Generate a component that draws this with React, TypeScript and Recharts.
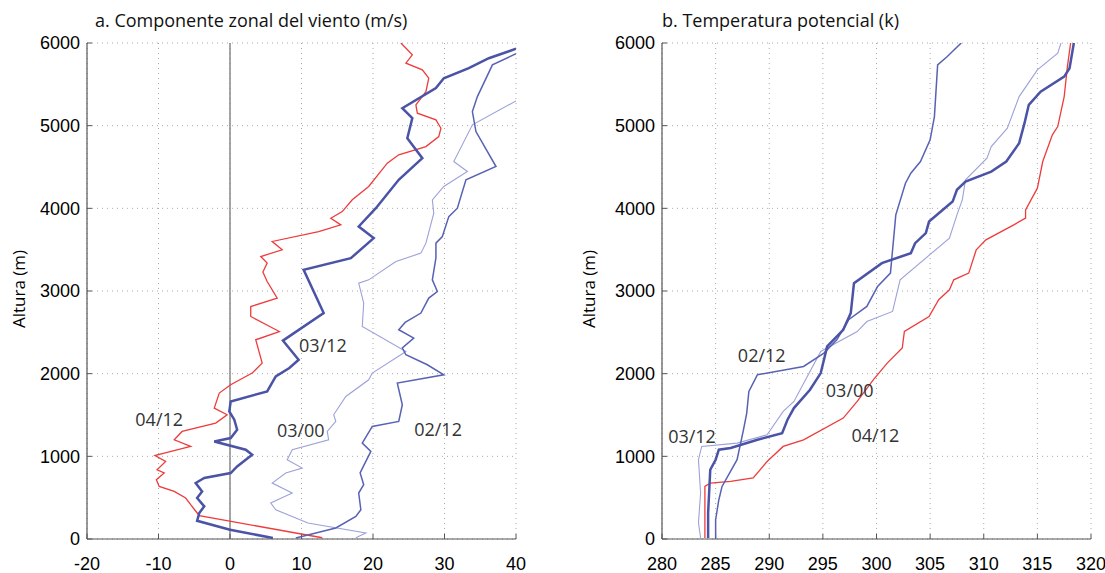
import { ScatterChart, Scatter, XAxis, YAxis, CartesianGrid, ReferenceLine, ReferenceDot } from 'recharts'

// [value, altitude m]
const wind0412: [number, number][] = [
  [12.9, 15], [-4.3, 282], [-5.0, 360], [-5.5, 415], [-6.2, 496], [-7.8, 576], [-9.9, 636], [-10.3, 717],
  [-9.2, 798], [-10.2, 838], [-9.0, 938], [-10.5, 1010], [-9.2, 1040], [-5.5, 1120], [-7.8, 1200], [-6.7, 1301],
  [-2.0, 1402], [-0.4, 1503], [-2.2, 1584], [-1.5, 1765], [0.1, 1866], [3.1, 2007], [4.5, 2128], [3.6, 2410],
  [6.9, 2510], [2.9, 2692], [2.9, 2812], [6.6, 2914], [5.2, 3115], [4.6, 3230], [5.2, 3337], [4.3, 3417],
  [7.3, 3498], [5.9, 3599], [12.4, 3719], [15.5, 3800], [14.1, 3881], [15.7, 3961], [17.1, 4103], [19.4, 4264],
  [22.0, 4546], [23.6, 4647], [27.4, 4747], [29.2, 4868], [29.5, 4969], [28.8, 5070], [26.2, 5151], [26.0, 5252],
  [27.4, 5412], [27.8, 5574], [26.9, 5675], [24.6, 5756], [25.5, 5856], [23.9, 6000],
]
const wind0312: [number, number][] = [
  [6.0, 12], [0, 112], [-4.6, 220], [-4.3, 314], [-3.6, 395], [-4.6, 496], [-3.9, 576], [-4.8, 677],
  [-3.6, 738], [0.1, 798], [1.0, 878], [3.1, 1019], [2.2, 1080], [-2.2, 1180], [0.1, 1221], [1.0, 1322],
  [0.6, 1443], [-0.1, 1543], [0.1, 1664], [5.2, 1785], [6.4, 1966], [8.3, 2068], [9.6, 2168], [7.4, 2400],
  [13.1, 2733], [10.3, 3256], [16.9, 3397], [20.1, 3640], [18.0, 3780], [20.4, 4002], [23.6, 4345], [26.9, 4607],
  [24.8, 4849], [25.5, 5091], [24.1, 5212], [28.8, 5454], [29.9, 5574], [33.4, 5695], [36.2, 5816], [40, 5930],
]
const wind0300: [number, number][] = [
  [17.6, 15], [19.0, 72], [10.9, 193], [6.4, 354], [5.7, 435], [8.7, 556], [5.9, 677], [7.8, 798],
  [10.1, 858], [8.0, 959], [8.7, 1080], [13.8, 1200], [13.6, 1301], [14.8, 1422], [14.5, 1503], [16.2, 1724],
  [19.4, 1926], [19.9, 2007], [24.6, 2268], [18.5, 2571], [18.7, 2853], [18.0, 3095], [19.4, 3135], [23.2, 3357],
  [26.7, 3458], [27.4, 3579], [28.5, 3942], [28.3, 4103], [29.9, 4264], [33.2, 4445], [31.3, 4566], [33.9, 5010],
  [40, 5300],
]
const wind0212: [number, number][] = [
  [9.2, 12], [14.8, 133], [17.6, 274], [18.3, 354], [18.0, 556], [18.7, 657], [18.2, 800], [19.0, 938],
  [19.7, 1059], [18.5, 1160], [19.9, 1362], [23.6, 1422], [24.1, 1624], [23.4, 1886], [29.9, 1987], [27.6, 2108],
  [24.6, 2229], [24.1, 2310], [25.7, 2430], [23.6, 2531], [24.5, 2620], [26.7, 2733], [27.8, 2914], [29.0, 2994],
  [28.3, 3135], [28.8, 3400], [28.8, 3579], [29.7, 3659], [30.6, 3900], [31.8, 4002], [33.0, 4345], [37.2, 4506],
  [34.4, 4929], [33.9, 5171], [34.6, 5352], [36.7, 5735], [40, 5870],
]

const theta0412: [number, number][] = [
  [284.0, 12], [284.0, 636], [284.5, 677], [286.4, 697], [288.5, 738], [289.8, 938], [291.3, 1120], [293.2, 1200],
  [296.9, 1463], [298.2, 1664], [299.7, 1926], [301.0, 2128], [302.4, 2310], [302.6, 2510], [304.9, 2692], [305.8, 2894],
  [306.8, 3014], [307.2, 3135], [308.6, 3216], [309.3, 3498], [310.2, 3619], [312.8, 3800], [313.9, 3881], [313.9, 3982],
  [315.0, 4244], [315.5, 4566], [316.4, 4889], [316.9, 4989], [317.5, 5352], [317.8, 5715], [318.1, 6000],
]
const theta0312: [number, number][] = [
  [284.3, 12], [284.3, 314], [284.5, 838], [285.0, 959], [285.3, 1080], [286.4, 1100], [288.9, 1200], [291.2, 1281],
  [291.7, 1443], [292.3, 1584], [293.8, 1805], [294.8, 2007], [295.4, 2329], [296.9, 2531], [297.6, 2733], [297.9, 3095],
  [300.5, 3337], [303.2, 3458], [303.6, 3579], [304.6, 3700], [304.9, 3840], [307.1, 4082], [307.5, 4224], [308.3, 4324],
  [310.7, 4445], [312.1, 4566], [313.3, 4788], [313.8, 5030], [314.2, 5252], [315.3, 5412], [317.5, 5594], [318.0, 5695],
  [318.4, 6000],
]
const theta0300: [number, number][] = [
  [283.6, 12], [283.4, 200], [283.6, 556], [283.4, 959], [283.7, 1120], [287.0, 1160], [289.8, 1261], [291.3, 1543],
  [292.3, 1664], [294.8, 2268], [298.2, 2510], [299.1, 2631], [301.5, 2753], [302.2, 3135], [306.8, 3640], [307.5, 3921],
  [308.0, 4103], [308.3, 4345], [310.3, 4607], [310.7, 4747], [312.2, 4969], [313.3, 5352], [315.0, 5675], [316.9, 5877],
  [317.2, 6000],
]
const theta0212: [number, number][] = [
  [285.0, 12], [285.0, 233], [285.3, 475], [285.6, 636], [287.0, 959], [287.6, 1322], [287.9, 1523], [288.1, 1785],
  [288.9, 1987], [293.2, 2087], [295.1, 2249], [296.3, 2410], [297.4, 2652], [299.1, 2813], [300.1, 3054], [301.3, 3216],
  [301.8, 3921], [302.7, 4304], [303.2, 4425], [304.1, 4566], [305.0, 4828], [305.4, 5110], [305.7, 5735], [306.6, 5836],
  [307.9, 6000],
]

const altTicks = [0, 1000, 2000, 3000, 4000, 5000, 6000]
const windTicks = [-20, -10, 0, 10, 20, 30, 40]
const thetaTicks = [280, 285, 290, 295, 300, 305, 310, 315, 320]

// label anchors [value, altitude]
const windLabels: [string, number, number][] = [
  ['04/12', -9.9, 1443], ['03/12', 13.0, 2337], ['03/00', 9.9, 1310], ['02/12', 29.1, 1322],
]
const thetaLabels: [string, number, number][] = [
  ['02/12', 289.3, 2217], ['03/00', 297.5, 1793], ['03/12', 282.8, 1237], ['04/12', 299.9, 1249],
]

const RED = '#ee3b3b'
const DARK = '#4a53a6'
const MID = '#5862b4'
const LIGHT = '#9ca2d8'
const TICK_FONT = 'Liberation Sans, Arial, sans-serif'
const TEXT_FONT = 'Open Sans, sans-serif'
const FRAME = '#555'

const toPts = (s: [number, number][]) => s.map(([x, y]) => ({ x, y }))
const NoDot = () => <g />

interface PanelProps {
  width: number
  yAxisWidth: number
  rightMargin: number
  domain: [number, number]
  ticks: number[]
  series: { data: [number, number][]; color: string; width: number }[]
  labels: [string, number, number][]
  zeroLine?: boolean
}

function Panel({ width, yAxisWidth, rightMargin, domain, ticks, series, labels, zeroLine }: PanelProps) {
  return (
    <ScatterChart width={width} height={573} margin={{ top: 43, right: rightMargin, bottom: 0, left: 0 }}>
      <CartesianGrid xAxisId="b" yAxisId="l" stroke="#aaa" strokeDasharray="1 4" />
      <XAxis
        xAxisId="b"
        type="number"
        dataKey="x"
        domain={domain}
        ticks={ticks}
        allowDataOverflow
        height={34}
        tickSize={-5}
        tickMargin={23}
        axisLine={{ stroke: FRAME, strokeWidth: 1.2 }}
        tickLine={{ stroke: FRAME }}
        tick={{ fill: '#000', fontSize: 18, fontFamily: TICK_FONT }}
      />
      <XAxis
        xAxisId="t"
        orientation="top"
        type="number"
        domain={domain}
        ticks={ticks}
        allowDataOverflow
        height={0}
        tickSize={-5}
        axisLine={{ stroke: FRAME, strokeWidth: 1.2 }}
        tickLine={{ stroke: FRAME }}
        tick={false}
      />
      <YAxis
        yAxisId="l"
        type="number"
        dataKey="y"
        domain={[0, 6000]}
        ticks={altTicks}
        allowDataOverflow
        width={yAxisWidth}
        tickSize={-5}
        tickMargin={12}
        axisLine={{ stroke: FRAME, strokeWidth: 1.2 }}
        tickLine={{ stroke: FRAME }}
        tick={{ fill: '#000', fontSize: 18, fontFamily: TICK_FONT }}
      />
      <YAxis
        yAxisId="r"
        orientation="right"
        type="number"
        domain={[0, 6000]}
        ticks={altTicks}
        allowDataOverflow
        width={0}
        tickSize={-5}
        axisLine={{ stroke: FRAME, strokeWidth: 1.2 }}
        tickLine={{ stroke: FRAME }}
        tick={false}
      />
      {zeroLine && <ReferenceLine xAxisId="b" yAxisId="l" x={0} stroke="#888" strokeWidth={1.5} />}
      {series.map((s, i) => (
        <Scatter
          key={i}
          xAxisId="b"
          yAxisId="l"
          data={toPts(s.data)}
          fill={s.color}
          line={{ stroke: s.color, strokeWidth: s.width }}
          shape={NoDot}
          isAnimationActive={false}
        />
      ))}
      {labels.map(([text, x, y]) => (
        <ReferenceDot
          key={text}
          xAxisId="b"
          yAxisId="l"
          x={x}
          y={y}
          r={0}
          stroke="none"
          label={{ value: text, position: 'center', fill: '#333', fontSize: 18, fontFamily: TEXT_FONT }}
        />
      ))}
    </ScatterChart>
  )
}

const titleStyle: React.CSSProperties = {
  position: 'absolute',
  top: 11,
  fontFamily: TEXT_FONT,
  fontSize: 18,
  lineHeight: '18px',
  color: '#111',
  whiteSpace: 'nowrap',
}
const yLabelStyle: React.CSSProperties = {
  position: 'absolute',
  top: 289,
  fontFamily: TEXT_FONT,
  fontSize: 17,
  color: '#000',
  whiteSpace: 'nowrap',
  transform: 'translate(-50%, -50%) rotate(-90deg)',
}

export default function App() {
  return (
    <div style={{ position: 'absolute', left: 0, top: 0, width: 1105, height: 573, background: '#fff', overflow: 'hidden' }}>
      <div style={{ position: 'absolute', left: 0, top: 0 }}>
        <Panel
          width={540}
          yAxisWidth={87}
          rightMargin={24}
          domain={[-20, 40]}
          ticks={windTicks}
          zeroLine
          series={[
            { data: wind0412, color: RED, width: 1.3 },
            { data: wind0300, color: LIGHT, width: 1.1 },
            { data: wind0212, color: MID, width: 1.5 },
            { data: wind0312, color: DARK, width: 2.5 },
          ]}
          labels={windLabels}
        />
      </div>
      <div style={{ position: 'absolute', left: 560, top: 0 }}>
        <Panel
          width={545}
          yAxisWidth={102}
          rightMargin={14}
          domain={[280, 320]}
          ticks={thetaTicks}
          series={[
            { data: theta0412, color: RED, width: 1.3 },
            { data: theta0300, color: LIGHT, width: 1.1 },
            { data: theta0212, color: MID, width: 1.5 },
            { data: theta0312, color: DARK, width: 2.5 },
          ]}
          labels={thetaLabels}
        />
      </div>
      <div style={{ ...titleStyle, left: 95 }}>a. Componente zonal del viento (m/s)</div>
      <div style={{ ...titleStyle, left: 662 }}>b. Temperatura potencial (k)</div>
      <div style={{ ...yLabelStyle, left: 18 }}>Altura (m)</div>
      <div style={{ ...yLabelStyle, left: 588 }}>Altura (m)</div>
    </div>
  )
}
